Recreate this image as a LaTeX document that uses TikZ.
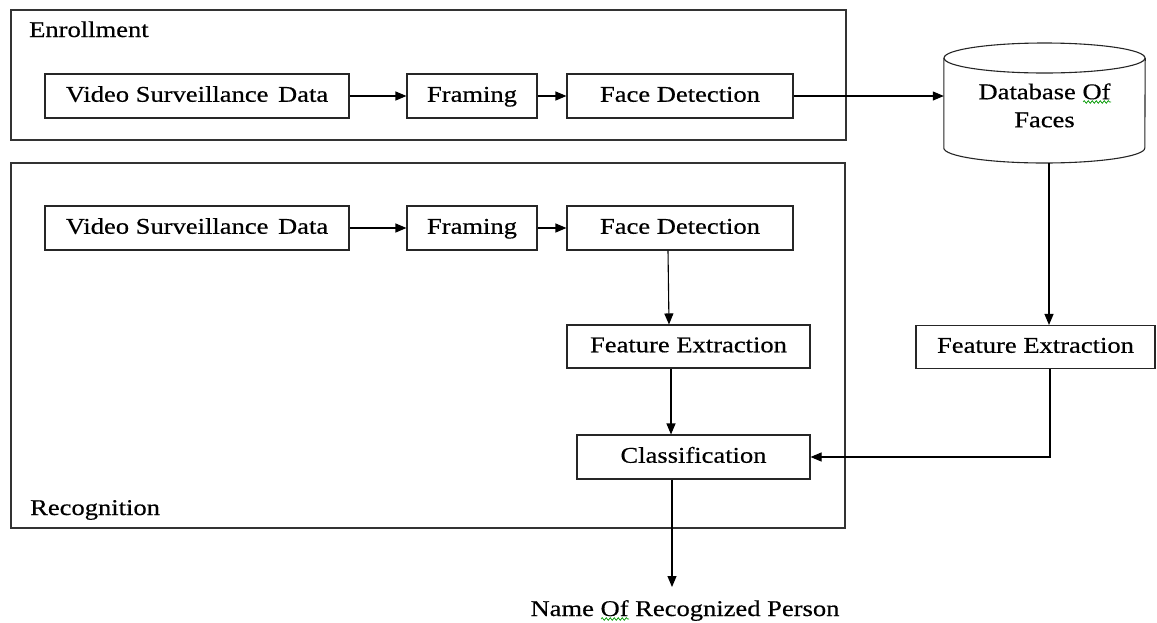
\documentclass[tikz,border=0pt]{standalone}
\usepackage{fontspec}
\setmainfont{Liberation Serif}[FakeStretch=1.18,FakeBold=0.5]
\usetikzlibrary{arrows.meta,decorations.pathmorphing}
\begin{document}
\begin{tikzpicture}[x=1pt,y=-1pt,
  box/.style={draw=black!85, line width=1.1pt, minimum height=44pt, inner sep=0pt,
    text height=12pt, text depth=0.5pt, font=\fontsize{22.5}{28}\selectfont},
  frame/.style={draw=black!80, line width=1.3pt, inner sep=0pt},
  conn/.style={draw=black, line width=1.1pt, -{Triangle[length=11pt,width=9pt]}},
  lbl/.style={inner sep=0pt, font=\fontsize{22.5}{28}\selectfont},
  squig/.style={draw=green!60!black, line width=0.7pt, decorate,
    decoration={snake, amplitude=1.3pt, segment length=4pt}}]
\useasboundingbox (0,0) rectangle (1157,622);

% containers
\node[frame, minimum width=835pt, minimum height=130pt] (enr) at (428.5,75) {};
\node[frame, minimum width=834pt, minimum height=365pt] (rec) at (428,345.5) {};
\node[lbl, anchor=base west] (enrl) at (29,37) {Enrollment};
\node[lbl, anchor=base west] (recl) at (30,515) {Recognition};

% enrollment row
\node[box, minimum width=304pt] (e1) at (197,96) {Video Surveillance\hspace{3pt} Data};
\node[box, minimum width=130pt] (e2) at (472,96) {Framing};
\node[box, minimum width=226pt] (e3) at (680,96) {Face Detection};

% recognition row
\node[box, minimum width=304pt] (r1) at (197,228) {Video Surveillance\hspace{3pt} Data};
\node[box, minimum width=130pt] (r2) at (472,228) {Framing};
\node[box, minimum width=226pt] (r3) at (680,228) {Face Detection};

\node[box, minimum width=243pt, minimum height=43pt] (fe1) at (688.5,346.5) {Feature Extraction};
\node[box, minimum width=239pt, minimum height=43pt] (fe2) at (1035.5,347) {Feature Extraction};
\node[box, minimum width=233pt] (cls) at (693.5,457) {Classification};

% database cylinder
\node[inner sep=0pt, minimum width=201pt, minimum height=120pt] (db) at (1044.5,103) {};
\draw[draw=black!85, line width=1.1pt, fill=white]
  (db.west |- 0,58) -- (db.west |- 0,148)
  arc[start angle=180, end angle=360, x radius=100.5pt, y radius=15pt]
  -- (db.east |- 0,58);
\draw[draw=black!85, line width=1.1pt] (1044.5,58) ellipse[x radius=100.5pt, y radius=15pt];
\node[lbl, align=center] (dbt) at (1044.5,105.4) {Database Of\\Faces};
\draw[squig] (1083,102) -- (1111,102);

% output label
\coordinate (out) at (672,587);
\node[lbl, anchor=base] (name) at (685,616) {Name Of Recognized Person};
\draw[squig] (601,619) -- (629,619);

% connectors
\draw[conn] (e1) -- (e2);
\draw[conn] (e2) -- (e3);
\draw[conn] (e3.east) -- (e3.east -| db.west);
\draw[conn] (r1) -- (r2);
\draw[conn] (r2) -- (r3);
\draw[conn] (r3.south -| 668,0) -- (fe1.north -| 669,0);
\draw[conn] (fe1.south -| 671,0) -- (cls.north -| 671,0);
\draw[conn] (db.south -| 1049,0) -- (fe2.north -| 1049,0);
\draw[conn] (fe2.south -| 1050,0) |- (cls.east);
\draw[conn] (cls.south -| out) -- (out);
\end{tikzpicture}
\end{document}
